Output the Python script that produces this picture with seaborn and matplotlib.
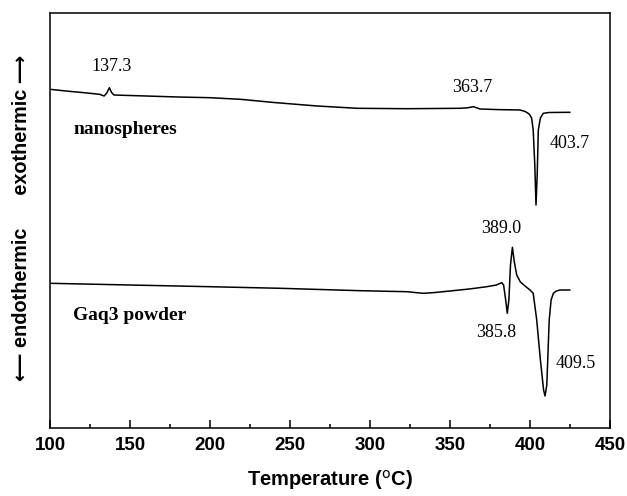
import matplotlib
matplotlib.use("Agg")
import matplotlib.pyplot as plt
import seaborn as sns
import pandas as pd
from matplotlib.ticker import MultipleLocator

# ---- data (heat flow in arbitrary units) ----
nano_temp = [100, 110, 120, 131, 133.8, 135.5, 137.1, 138.5, 140, 160, 180, 200, 219,
             240, 267, 292, 323, 340, 356, 361, 364.6, 368.8, 380, 393.8, 397, 399.5,
             401, 402, 403, 403.75, 404.5, 405.2, 406.5, 408.3, 412, 425]
nano_flow = [339.0, 337.3, 335.8, 334.0, 332.3, 335.3, 340.6, 335.8, 333.3, 332.3, 331.3,
             330.6, 329.0, 325.8, 322.3, 320.0, 319.6, 319.8, 320.0, 320.5, 321.6, 319.3,
             318.7, 318.3, 316.8, 314.3, 310.3, 298.3, 263.3, 223.3, 253.3, 298.3, 310.3,
             315.0, 315.8, 316.0]

gaq_temp = [100, 150, 200, 244, 294, 323, 328, 333.3, 340, 350, 362, 373, 379, 382.3,
            383.5, 384.8, 385.8, 386.8, 387.8, 389, 390.2, 391.7, 394, 396.9, 400, 402,
            404.2, 406.5, 408.5, 409.4, 410.5, 412, 413.2, 414.6, 416.5, 418.75, 425]
gaq_flow = [145.0, 143.3, 141.6, 140.0, 137.6, 136.6, 135.8, 135.0, 135.7, 137.3, 139.3,
            141.6, 143.3, 145.6, 143.3, 128.3, 115.0, 128.3, 163.3, 181.0, 166.3, 153.3,
            146.3, 142.3, 138.3, 135.0, 108.3, 68.3, 38.3, 32.3, 43.3, 108.3, 128.3, 135.0,
            137.3, 138.3, 138.3]

peak_labels = ["137.3", "363.7", "403.7", "389.0", "385.8", "409.5"]
peak_label_x = [138.75, 363.75, 412.1, 381.9, 378.75, 416.25]
peak_label_y = [361.6, 341.0, 284.3, 200.0, 95.6, 65.0]
peak_label_ha = ["center", "center", "left", "center", "center", "left"]

sample_names = ["nanospheres", "Gaq3 powder"]
sample_label_x = [114.4, 114.4]
sample_label_y = [298.3, 112.3]

x_ticks = [100, 150, 200, 250, 300, 350, 400, 450]

# ---- build tables ----
df = pd.concat([
    pd.DataFrame({"T": nano_temp, "flow": nano_flow, "sample": "nanospheres"}),
    pd.DataFrame({"T": gaq_temp, "flow": gaq_flow, "sample": "Gaq3 powder"}),
])

sns.set_theme(style="white")
plt.rcParams["font.family"] = ["Liberation Sans", "DejaVu Sans"]
plt.rcParams["text.color"] = "black"
plt.rcParams["axes.labelcolor"] = "black"
plt.rcParams["xtick.color"] = "black"
plt.rcParams["xtick.labelcolor"] = "black"

fig = plt.figure(figsize=(6.27, 4.96), dpi=100)
ax = fig.add_axes([50 / 627, (496 - 428.3) / 496, 560 / 627, 415.6 / 496])

sns.lineplot(data=df, x="T", y="flow", units="sample", estimator=None,
             color="black", linewidth=1.1, sort=False, ax=ax, legend=False)

ax.set_xlim(100, 450)
ax.set_ylim(0, 415.6)
ax.set_xticks(x_ticks)
ax.xaxis.set_minor_locator(MultipleLocator(25))
ax.set_yticks([])
ax.tick_params(axis="x", which="major", direction="in", length=6, width=1.1,
               bottom=True, labelsize=13.5, pad=6, colors="black")
ax.tick_params(axis="x", which="minor", direction="in", length=3, width=1.1,
               bottom=True, colors="black")
for lab in ax.get_xticklabels():
    lab.set_fontweight("bold")
for sp in ax.spines.values():
    sp.set_linewidth(1.1)
    sp.set_color("black")

ax.set_xlabel(r"Temperature ($^{\mathrm{o}}$C)", fontsize=14.5, fontweight="bold",
              labelpad=10, color="black")
ax.set_ylabel("")

for txt, x, y, ha in zip(peak_labels, peak_label_x, peak_label_y, peak_label_ha):
    ax.text(x, y, txt, ha=ha, va="center", fontsize=13, family="Liberation Serif",
            color="black")
for txt, x, y in zip(sample_names, sample_label_x, sample_label_y):
    ax.text(x, y, txt, ha="left", va="center", fontsize=14, fontweight="bold",
            family="Liberation Serif", color="black")

fig.text(22 / 627, 1 - 218 / 496, "\u27f5 endothermic      exothermic \u27f6",
         rotation=90, ha="center", va="center", fontsize=14.3, fontweight="bold",
         family=["Liberation Sans", "DejaVu Sans"], color="black")

fig.savefig("out.png", dpi=100)
